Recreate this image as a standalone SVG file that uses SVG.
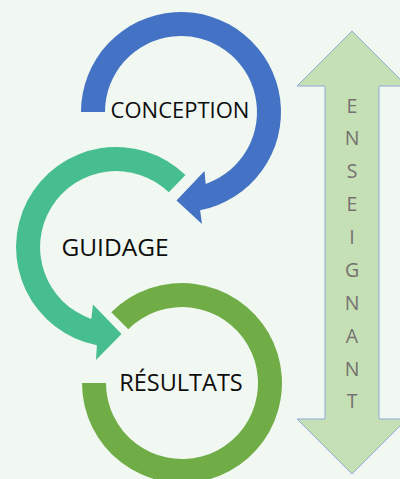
<svg xmlns="http://www.w3.org/2000/svg" width="400" height="479" viewBox="0 0 400 479">
  <style>
    .stage { font-family: "Open Sans", "Liberation Sans", sans-serif; fill: #0d0d0d; text-anchor: middle; }
    .vert { font-family: "Open Sans", "Liberation Sans", sans-serif; font-size: 19.5px; fill: #757171; text-anchor: middle; }
    .blue { fill: #4472C4; }
    .teal { fill: #46BE90; }
    .leaf { fill: #70AD47; }
  </style>
  <rect width="400" height="479" fill="#F1F8F1"/>

  <!-- circular flow arrows between the three stages -->
  <g id="connectors">
    <!-- conception loop, centre (181,112), ends in a head pointing toward guidage -->
    <path class="blue" d="M81,112 A100,100 0 1 1 200.1,210.2 L202,224 L176.5,200.5 L204.5,171 L205.7,183.9 A76,76 0 1 0 105,112 Z"/>
    <!-- guidage loop, centre (116,247), head pointing toward résultats -->
    <path class="teal" d="M185.5,175.1 A100,100 0 1 0 96.9,345.2 L96,360 L121.5,334 L93,304.5 L91.3,318.9 A76,76 0 1 1 168.8,192.3 Z"/>
    <!-- résultats ring, centre (182,383) -->
    <path class="leaf" d="M111.3,312.3 A100,100 0 1 1 82,383 L106,383 A76,76 0 1 0 128.3,329.3 Z"/>
  </g>

  <g id="conception">
    <text class="stage" x="180" y="118" font-size="22">CONCEPTION</text>
  </g>
  <g id="guidage">
    <text class="stage" x="115" y="256" font-size="24.5">GUIDAGE</text>
  </g>
  <g id="resultats">
    <text class="stage" x="181" y="391" font-size="23.5">RÉSULTATS</text>
  </g>

  <g id="enseignant">
    <polygon points="352,31 407,86 379,86 379,419 407,419 352,474 297,419 325,419 325,86 297,86" fill="#C5E0B4" stroke="#8FAADC" stroke-width="1"/>
    <text class="vert" x="352" y="113">E</text>
    <text class="vert" x="352" y="145">N</text>
    <text class="vert" x="352" y="178">S</text>
    <text class="vert" x="352" y="211">E</text>
    <text class="vert" x="352" y="244">I</text>
    <text class="vert" x="352" y="277">G</text>
    <text class="vert" x="352" y="310">N</text>
    <text class="vert" x="352" y="343">A</text>
    <text class="vert" x="352" y="376">N</text>
    <text class="vert" x="352" y="408">T</text>
  </g>
</svg>
